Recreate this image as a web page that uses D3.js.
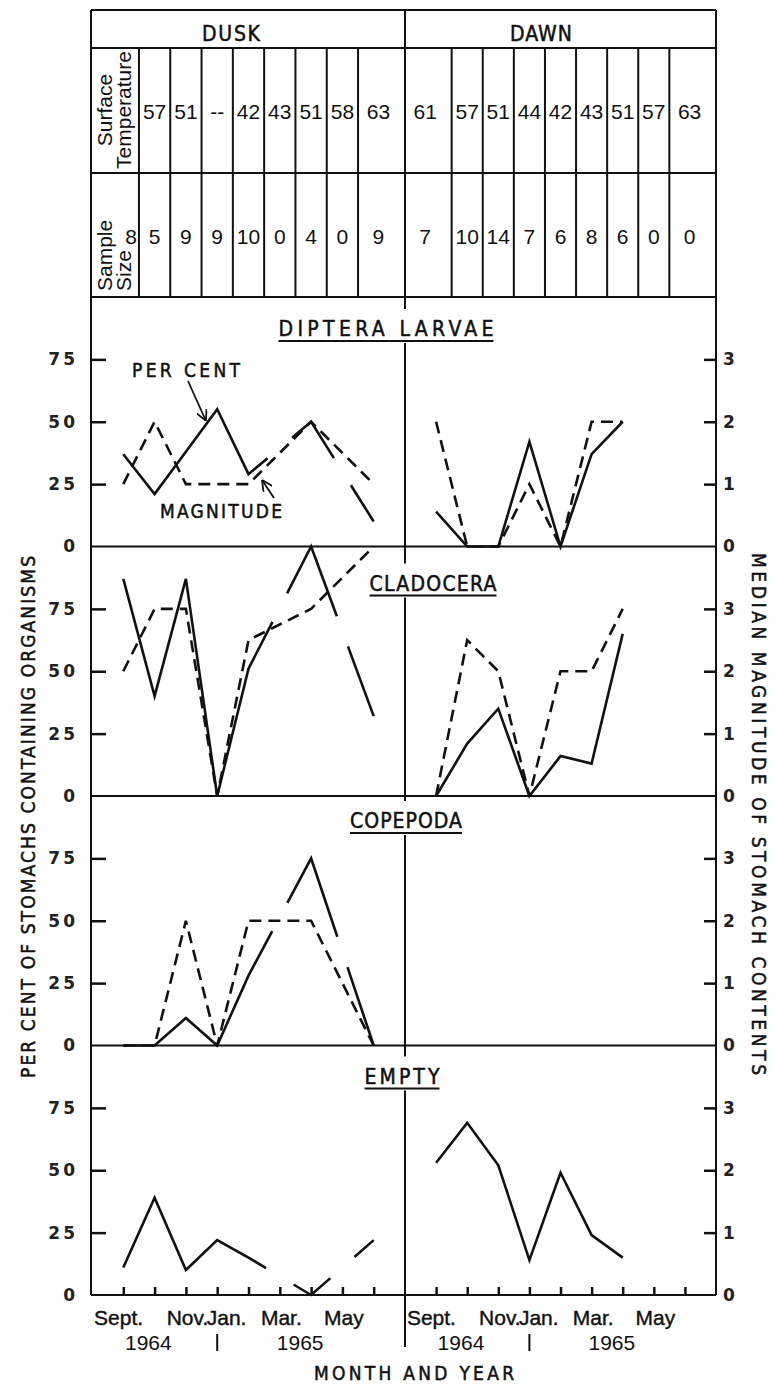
<!DOCTYPE html>
<html>
<head>
<meta charset="utf-8" />
<style>
  body { margin: 0; background: #fff; }
  svg { display: block; }
  .num { font-family: 'Liberation Sans', Arial, sans-serif; font-size: 21px; fill: #111; }
  .lbl { font-family: 'DejaVu Sans Condensed', 'DejaVu Sans', sans-serif; fill: #111; stroke: #111; stroke-width: 0.5px; }
  .tick text { font-family: 'DejaVu Sans', sans-serif; font-size: 17px; font-weight: bold; fill: #222; letter-spacing: 3px; }
  .tick line { stroke: #111; stroke-width: 2.5; }
</style>
</head>
<body>
<div id="chart"></div>
<script src="https://d3js.org/d3.v7.min.js"></script>
<script>
// ---- data ----
var ticks = [1, 2, 3, 4, 5, 6, 7, 8, 9];
var duskTemp = ["", "57", "51", "--", "42", "43", "51", "58", "63"];
var dawnTemp = ["61", "57", "51", "44", "42", "43", "51", "57", "63"];
var duskSample = [8, 5, 9, 9, 10, 0, 4, 0, 9];
var dawnSample = [7, 10, 14, 7, 6, 8, 6, 0, 0];

var panelNames = ["DIPTERA LARVAE", "CLADOCERA", "COPEPODA", "EMPTY"];

// per cent (solid) and magnitude (dashed); null = no sample
var dipteraDuskPct = [37, 21, 38, 55, 29, null, 50, null, 10];
var dipteraDuskMag = [1, 2, 1, 1, 1, null, 2, null, 1];
var dipteraDawnPct = [14, 0, 0, 42, 0, 37, 50];
var dipteraDawnMag = [2, 0, 0, 1, 0, 2, 2];

var cladoceraDuskPct = [87, 40, 87, 0, 51, null, 100, null, 32];
var cladoceraDuskMag = [2, 3, 3, 0, 2.5, null, 3, null, 4];
var cladoceraDawnPct = [0, 21, 35, 0, 16, 13, 65];
var cladoceraDawnMag = [0, 2.5, 2, 0, 2, 2, 3];

var copepodaDuskPct = [0, 0, 11, 0, 28, null, 75, null, 0];
var copepodaDuskMag = [0, 0, 2, 0, 2, null, 2, null, 0];
var copepodaDawnPct = [];
var copepodaDawnMag = [];

var emptyDuskPct = [11, 39, 10, 22, 15, null, 0, null, 22];
var emptyDawnPct = [53, 69, 52, 14, 49, 24, 15];

var pctTicks = [0, 25, 50, 75];
var magTicks = [0, 1, 2, 3];

var monthLabels = ["Sept.", "Nov.", "Jan.", "Mar.", "May"];
var monthAt = [0.85, 3.05, 4.3, 6.05, 8.05];
var yearLabels = ["1964", "1965"];
var yearAt = [1.8, 6.65];

var series = [
  {duskPct: dipteraDuskPct, duskMag: dipteraDuskMag, dawnPct: dipteraDawnPct, dawnMag: dipteraDawnMag},
  {duskPct: cladoceraDuskPct, duskMag: cladoceraDuskMag, dawnPct: cladoceraDawnPct, dawnMag: cladoceraDawnMag},
  {duskPct: copepodaDuskPct, duskMag: copepodaDuskMag, dawnPct: copepodaDawnPct, dawnMag: copepodaDawnMag},
  {duskPct: emptyDuskPct, duskMag: [], dawnPct: emptyDawnPct, dawnMag: []}
];

// ---- layout ----
var width = 779, height = 1384;
var left = 91, right = 716, mid = 405;
var tableTop = 10, headBottom = 48, tempBottom = 173, tableBottom = 297;
var panelH = 249.5;

// title placement per panel (centre x, baseline offset from panel top, width)
var titleLayout = [
  {cx: 386, dy: 39, w: 215},
  {cx: 433, dy: 44, w: 127},
  {cx: 406, dy: 32, w: 112},
  {cx: 402, dy: 38, w: 75}
];

var xDusk = d3.scaleLinear().domain([0, 10]).range([92, mid]);
var xDawn = d3.scaleLinear().domain([0, 10]).range([mid, right]);

var svg = d3.select('#chart').append('svg')
  .attr('width', width)
  .attr('height', height);

svg.append('rect').attr('width', width).attr('height', height).attr('fill', '#fff');

var frame = svg.append('g').attr('stroke', '#111').attr('stroke-width', 2).attr('fill', 'none');

// outer frame
frame.append('line').attr('x1', left).attr('x2', left).attr('y1', tableTop).attr('y2', tableBottom + 4 * panelH);
frame.append('line').attr('x1', right).attr('x2', right).attr('y1', tableTop).attr('y2', tableBottom + 4 * panelH);
[tableTop, headBottom, tempBottom, tableBottom].forEach(function(y) {
  frame.append('line').attr('x1', left).attr('x2', right).attr('y1', y).attr('y2', y);
});

// middle divider
frame.append('line').attr('x1', mid).attr('x2', mid).attr('y1', tableTop).attr('y2', 1347);

// ---- table ----
var halves = [
  {x: xDusk, temp: duskTemp, n: duskSample, name: 'DUSK', cx: 231, w: 58},
  {x: xDawn, temp: dawnTemp, n: dawnSample, name: 'DAWN', cx: 541, w: 62}
];

function cellCentre(i) {
  return i === 1 ? 0.65 : (i === 9 ? 9.15 : i);
}

halves.forEach(function(h, hi) {
  svg.append('text').attr('class', 'lbl')
    .attr('x', h.cx).attr('y', 41).attr('text-anchor', 'middle')
    .attr('font-size', 21).attr('textLength', h.w).attr('lengthAdjust', 'spacing')
    .text(h.name);

  // cell walls
  d3.range(1, 9).forEach(function(i) {
    frame.append('line').attr('x1', h.x(i + 0.5)).attr('x2', h.x(i + 0.5))
      .attr('y1', headBottom).attr('y2', tableBottom);
  });

  ticks.forEach(function(t, i) {
    var cx = h.x(cellCentre(t));
    if (hi === 0 && t === 1) cx = h.x(1.25);
    svg.append('text').attr('class', 'num')
      .attr('x', cx).attr('y', 119).attr('text-anchor', 'middle')
      .text(h.temp[i]);
    svg.append('text').attr('class', 'num')
      .attr('x', cx).attr('y', 244).attr('text-anchor', 'middle')
      .text(h.n[i]);
  });
});

// row headings (rotated)
function rotLabel(txt, x, y, anchor) {
  svg.append('text').attr('class', 'num')
    .attr('font-size', 17)
    .attr('text-anchor', anchor)
    .attr('transform', 'translate(' + x + ',' + y + ') rotate(-90)')
    .text(txt);
}
rotLabel('Surface', 112, 110, 'middle');
rotLabel('Temperature', 131, 110, 'middle');
rotLabel('Sample', 112, 291, 'start');
rotLabel('Size', 131, 291, 'start');

// ---- panels ----
var lineGen = d3.line().x(function(d) { return d[0]; }).y(function(d) { return d[1]; });

function solidRuns(vals, x, y) {
  var pts = [];
  vals.forEach(function(v, i) {
    if (v != null) pts.push({i: i + 1, p: [x(i + 1), y(v)]});
  });
  if (!pts.length) return [];
  var runs = [], cur = [pts[0].p], gap = 32;
  for (var k = 1; k < pts.length; k++) {
    var a = pts[k - 1], b = pts[k];
    if (b.i - a.i === 1) {
      cur.push(b.p);
    } else {
      var dx = b.p[0] - a.p[0], dy = b.p[1] - a.p[1];
      var g = gap / 2 / Math.sqrt(dx * dx + dy * dy);
      cur.push([a.p[0] + dx * (0.5 - g), a.p[1] + dy * (0.5 - g)]);
      runs.push(cur);
      cur = [[a.p[0] + dx * (0.5 + g), a.p[1] + dy * (0.5 + g)], b.p];
    }
  }
  runs.push(cur);
  return runs;
}

function dashedRun(vals, x, y) {
  var pts = [];
  vals.forEach(function(v, i) {
    if (v != null) pts.push([x(i + 1), y(v)]);
  });
  return pts;
}

panelNames.forEach(function(name, k) {
  var top = tableBottom + k * panelH;
  var zero = top + panelH;
  var yPct = d3.scaleLinear().domain([0, 100]).range([zero, top]);
  var yMag = d3.scaleLinear().domain([0, 4]).range([zero, top]);

  frame.append('line').attr('x1', left).attr('x2', right).attr('y1', zero).attr('y2', zero);

  // axes
  var ga = svg.append('g').attr('transform', 'translate(' + left + ',0)')
    .call(d3.axisLeft(yPct).tickValues(pctTicks).tickFormat(d3.format('d'))
      .tickSizeInner(-15).tickSizeOuter(0).tickPadding(13));
  ga.select('.domain').remove();
  ga.selectAll('.tick').filter(function(d) { return d === 0; }).select('line').remove();

  var gb = svg.append('g').attr('transform', 'translate(' + right + ',0)')
    .call(d3.axisRight(yMag).tickValues(magTicks).tickFormat(d3.format('d'))
      .tickSizeInner(-12).tickSizeOuter(0).tickPadding(7));
  gb.select('.domain').remove();
  gb.selectAll('.tick').filter(function(d) { return d === 0; }).select('line').remove();

  // title with white box breaking the divider
  var tl = titleLayout[k];
  var base = top + tl.dy;
  svg.append('rect').attr('x', tl.cx - tl.w / 2 - 4).attr('y', base - 27)
    .attr('width', tl.w + 8).attr('height', 34).attr('fill', '#fff');
  svg.append('text').attr('class', 'lbl')
    .attr('x', tl.cx).attr('y', base).attr('text-anchor', 'middle')
    .attr('font-size', 21).attr('textLength', tl.w).attr('lengthAdjust', 'spacing')
    .text(name);
  svg.append('line').attr('x1', tl.cx - tl.w / 2).attr('x2', tl.cx + tl.w / 2)
    .attr('y1', base + 5).attr('y2', base + 5)
    .attr('stroke', '#111').attr('stroke-width', 2.2);

  var s = series[k];
  var plot = svg.append('g').attr('fill', 'none').attr('stroke', '#111')
    .attr('stroke-width', 2.6).attr('stroke-linejoin', 'miter');

  [[s.duskPct, s.duskMag, xDusk], [s.dawnPct, s.dawnMag, xDawn]].forEach(function(h) {
    solidRuns(h[0], h[2], yPct).forEach(function(run) {
      plot.append('path').attr('d', lineGen(run));
    });
    var dr = dashedRun(h[1], h[2], yMag);
    if (dr.length) {
      plot.append('path').attr('d', lineGen(dr)).attr('stroke-dasharray', '12,7');
    }
  });
});

// bottom axes (month ticks)
var bottom = tableBottom + 4 * panelH;
[xDusk, xDawn].forEach(function(x) {
  var gx = svg.append('g').attr('transform', 'translate(0,' + bottom + ')')
    .call(d3.axisBottom(x).tickValues(ticks).tickSizeInner(-8).tickSizeOuter(0).tickFormat(''));
  gx.select('.domain').remove();
  gx.selectAll('.tick line').attr('stroke-width', 2);

  monthLabels.forEach(function(m, i) {
    svg.append('text').attr('class', 'num').attr('font-size', 16)
      .attr('stroke', '#111').attr('stroke-width', 0.4)
      .attr('x', x(monthAt[i])).attr('y', 1325).attr('text-anchor', 'middle')
      .text(m);
  });
  yearLabels.forEach(function(yr, i) {
    svg.append('text').attr('class', 'num').attr('font-size', 18)
      .attr('x', x(yearAt[i])).attr('y', 1350).attr('text-anchor', 'middle')
      .text(yr);
  });
  svg.append('line').attr('x1', x(4)).attr('x2', x(4)).attr('y1', 1334).attr('y2', 1351)
    .attr('stroke', '#111').attr('stroke-width', 2);
});

svg.append('text').attr('class', 'lbl')
  .attr('x', 414).attr('y', 1380).attr('text-anchor', 'middle')
  .attr('font-size', 19).attr('textLength', 200).attr('lengthAdjust', 'spacing')
  .text('MONTH AND YEAR');

// y titles
svg.append('text').attr('class', 'lbl')
  .attr('font-size', 19).attr('text-anchor', 'middle')
  .attr('textLength', 522).attr('lengthAdjust', 'spacing')
  .attr('transform', 'translate(35,817) rotate(-90)')
  .text('PER CENT OF STOMACHS CONTAINING ORGANISMS');

svg.append('text').attr('class', 'lbl')
  .attr('font-size', 19).attr('text-anchor', 'middle')
  .attr('textLength', 522).attr('lengthAdjust', 'spacing')
  .attr('transform', 'translate(752,814) rotate(90)')
  .text('MEDIAN MAGNITUDE OF STOMACH CONTENTS');

// annotations in the diptera panel
var defs = svg.append('defs');
defs.append('marker').attr('id', 'arr')
  .attr('viewBox', '0 0 10 10').attr('refX', 10).attr('refY', 5)
  .attr('markerWidth', 11).attr('markerHeight', 11).attr('markerUnits', 'userSpaceOnUse')
  .attr('orient', 'auto')
  .append('path').attr('d', 'M0,0 L10,5 L0,10').attr('fill', 'none')
  .attr('stroke', '#111').attr('stroke-width', 1.6);

svg.append('text').attr('class', 'lbl')
  .attr('x', 186).attr('y', 377).attr('text-anchor', 'middle')
  .attr('font-size', 19).attr('textLength', 108).attr('lengthAdjust', 'spacing')
  .text('PER CENT');
svg.append('line').attr('x1', 188).attr('y1', 381).attr('x2', 206).attr('y2', 421)
  .attr('stroke', '#111').attr('stroke-width', 1.8).attr('marker-end', 'url(#arr)');

svg.append('text').attr('class', 'lbl')
  .attr('x', 221).attr('y', 518).attr('text-anchor', 'middle')
  .attr('font-size', 19).attr('textLength', 122).attr('lengthAdjust', 'spacing')
  .text('MAGNITUDE');
svg.append('line').attr('x1', 274).attr('y1', 498).attr('x2', 262).attr('y2', 480)
  .attr('stroke', '#111').attr('stroke-width', 1.8).attr('marker-end', 'url(#arr)');
</script>
</body>
</html>
